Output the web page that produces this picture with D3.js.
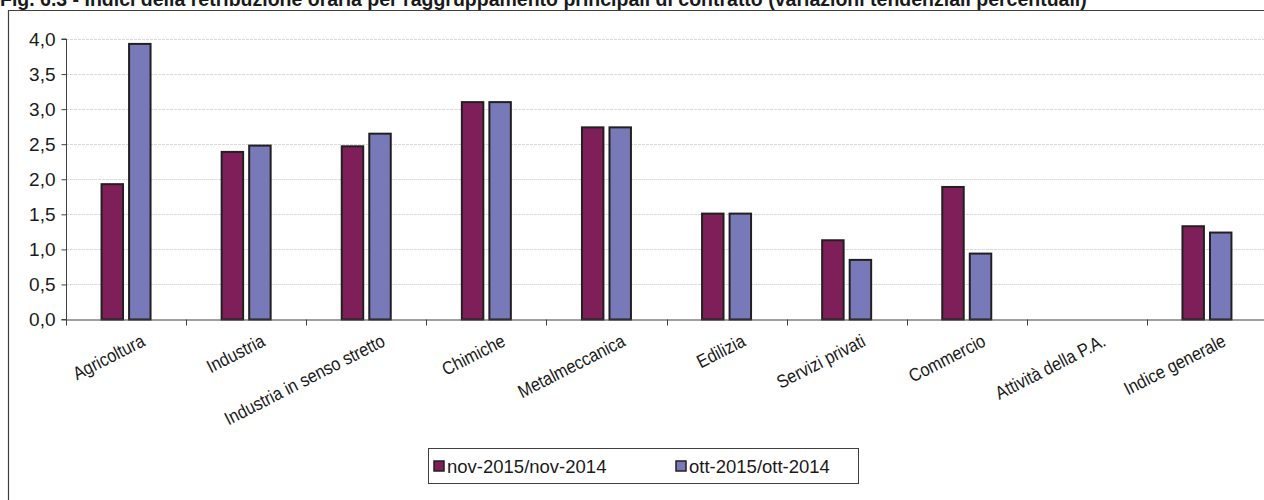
<!DOCTYPE html>
<html>
<head>
<meta charset="utf-8">
<script src="https://cdn.jsdelivr.net/npm/d3@7"></script>
<style>
  html, body { margin: 0; padding: 0; background: #fff; overflow: hidden; }
  svg { display: block; }
</style>
</head>
<body>
<svg id="chart" width="1264" height="500"></svg>
<script>

var title = "Fig. 6.3 - Indici della retribuzione oraria per raggruppamento principali di contratto (variazioni tendenziali percentuali)";

var categories = [
  "Agricoltura", "Industria", "Industria in senso stretto", "Chimiche", "Metalmeccanica",
  "Edilizia", "Servizi privati", "Commercio", "Attività della P.A.", "Indice generale"
];
var seriesNames = ["nov-2015/nov-2014", "ott-2015/ott-2014"];
var novValues = [1.93, 2.39, 2.47, 3.10, 2.74, 1.51, 1.13, 1.89, null, 1.33];
var ottValues = [3.93, 2.48, 2.65, 3.10, 2.74, 1.51, 0.85, 0.94, null, 1.24];
var yTicks = [0, 0.5, 1, 1.5, 2, 2.5, 3, 3.5, 4];
var colors = ["#7f1f5a", "#7779b8"];

var font = "'Liberation Sans', Arial, sans-serif";

var svg = d3.select("#chart");

// title, clipped at the top of the picture as in the source
svg.append("text")
  .text(title)
  .attr("x", 0)
  .attr("y", 6)
  .style("font-family", font)
  .style("font-weight", "bold")
  .style("font-size", "19.5px")
  .style("fill", "#1a1a1a");

// outer frame
svg.append("path")
  .attr("d", "M8.5,500 V10.5 H1264")
  .style("fill", "none")
  .style("stroke", "#404040")
  .style("stroke-width", 1.2);

var x = d3.scaleBand().domain(categories).range([66, 1267]).padding(0);
var xInner = d3.scaleBand().domain([0, 1]).range([-24.5, 24.5]).paddingInner(0.22);
var y = d3.scaleLinear().domain([0, 4]).range([319.5, 39]);

// gridlines
svg.append("g")
  .selectAll("line")
  .data(yTicks.filter(d => d > 0))
  .join("line")
  .attr("x1", 66)
  .attr("x2", 1264)
  .attr("y1", d => Math.round(y(d)) + 0.5)
  .attr("y2", d => Math.round(y(d)) + 0.5)
  .style("stroke", "#d9d9d9")
  .style("stroke-dasharray", "3,1");

// y axis
var yAxis = svg.append("g")
  .attr("transform", "translate(66.5,0)")
  .call(d3.axisLeft(y).tickValues(yTicks).tickSize(5).tickPadding(6)
    .tickFormat(d => d3.format(".1f")(d).replace(".", ",")));
yAxis.select(".domain").attr("d", "M-5," + y(4) + "H0V" + y(0) + "H-5").style("stroke", "#404040");
yAxis.selectAll(".tick line").style("stroke", "#404040");
yAxis.selectAll(".tick text")
  .style("font-family", font)
  .style("font-size", "19px")
  .style("fill", "#1a1a1a");

// bars
var series = [novValues, ottValues];
series.forEach((values, s) => {
  svg.append("g")
    .selectAll("rect")
    .data(categories.map((c, i) => ({ cat: c, value: values[i] })).filter(d => d.value != null))
    .join("rect")
    .attr("x", d => x(d.cat) + x.bandwidth() / 2 + xInner(s))
    .attr("y", d => y(d.value))
    .attr("width", xInner.bandwidth())
    .attr("height", d => y(0) - y(d.value))
    .style("fill", colors[s])
    .style("stroke", "#231f20")
    .style("stroke-width", 2);
});

// x axis
var xAxis = svg.append("g")
  .attr("transform", "translate(0," + (y(0)) + ")")
  .call(d3.axisBottom(x).tickSize(0).tickFormat(""));
xAxis.select(".domain").attr("d", "M66,0.5H1264").style("stroke", "#404040");
xAxis.selectAll(".tick").remove();

svg.append("g")
  .selectAll("line")
  .data(categories)
  .join("line")
  .attr("x1", d => Math.round(x(d)) + 0.5)
  .attr("x2", d => Math.round(x(d)) + 0.5)
  .attr("y1", y(0))
  .attr("y2", y(0) + 6)
  .style("stroke", "#404040");

svg.append("g")
  .selectAll("text")
  .data(categories)
  .join("text")
  .text(d => d)
  .attr("transform", d => "translate(" + (x(d) + x.bandwidth() / 2 + 14) + ",333) rotate(-27) scale(0.88,1)")
  .style("text-anchor", "end")
  .style("dominant-baseline", "hanging")
  .style("font-family", font)
  .style("font-size", "18.5px")
  .style("fill", "#1a1a1a");

// legend
var legend = svg.append("g").attr("transform", "translate(428,448)");
legend.append("rect")
  .attr("x", 0.5)
  .attr("y", 0.5)
  .attr("width", 430)
  .attr("height", 35)
  .style("fill", "#fff")
  .style("stroke", "#404040");

var legendX = [6, 248];
seriesNames.forEach((name, s) => {
  var item = legend.append("g").attr("transform", "translate(" + legendX[s] + ",0)");
  item.append("rect")
    .attr("x", 0)
    .attr("y", 13)
    .attr("width", 10)
    .attr("height", 10)
    .style("fill", colors[s])
    .style("stroke", "#231f20")
    .style("stroke-width", 1.5);
  item.append("text")
    .text(name)
    .attr("x", 13)
    .attr("y", 24.5)
    .style("font-family", font)
    .style("font-size", "18.5px")
    .style("fill", "#1a1a1a");
});

</script>
</body>
</html>
